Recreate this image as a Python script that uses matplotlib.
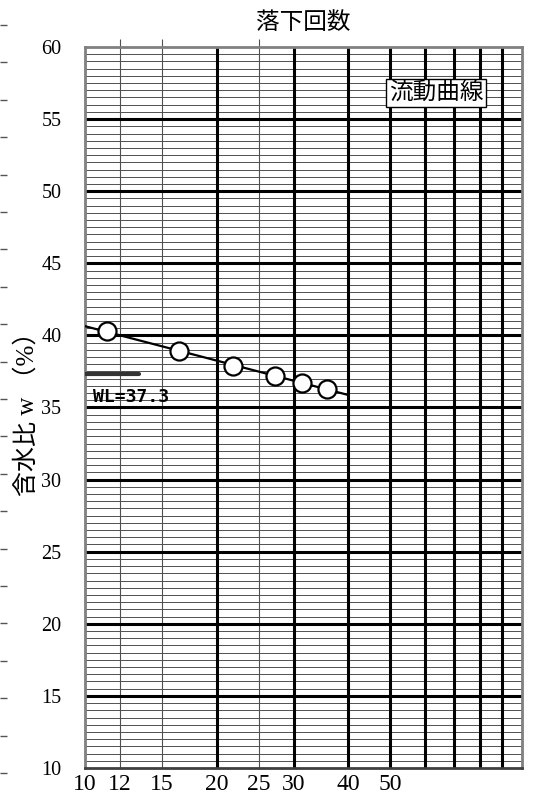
import numpy as np
import matplotlib
matplotlib.use("Agg")
import matplotlib.pyplot as plt

plt.rcParams['font.family'] = ['Liberation Serif', 'Noto Sans CJK JP', 'DejaVu Sans']

# data
drops = [11.2, 16.4, 21.8, 27.2, 31.4, 35.8]
water = [40.3, 38.9, 37.9, 37.2, 36.7, 36.3]
wl_value = 37.3

x_labels = [10, 12, 15, 20, 25, 30, 40, 50]
x_thin = [12, 15, 25]
x_thick = [20, 30, 40, 50, 60, 70, 80, 90]
y_ticks = [10, 15, 20, 25, 30, 35, 40, 45, 50, 55, 60]

fig = plt.figure(figsize=(5.39, 7.98), dpi=100)
ax = fig.add_axes([0.1577, 0.0376, 0.8108, 0.9035])
ax.set_xscale('log')
ax.set_xlim(10, 100)
ax.set_ylim(10, 60)

# grid lines
for y in np.arange(10, 60, 0.5):
    if y % 5 != 0:
        ax.axhline(y, color='#505050', lw=0.7, zorder=1)
for y in y_ticks[1:-1]:
    ax.axhline(y, color='black', lw=2.2, zorder=2)
for x in x_thin:
    ax.axvline(x, color='#505050', lw=0.8, zorder=1)
for x in x_thick:
    ax.axvline(x, color='black', lw=2.2, zorder=2)

# flow curve fitted on log scale
coef = np.polyfit(np.log10(drops), water, 1)
xs = np.array([10, 39.6])
ax.plot(xs, np.polyval(coef, np.log10(xs)), color='black', lw=1.6, zorder=3)
ax.plot(drops, water, 'o', ms=13, mfc='white', mec='black', mew=1.6, zorder=4)

# liquid limit mark
ax.plot([10, 13.3], [wl_value, wl_value], color='#333333', lw=3, solid_capstyle='round', zorder=3)
ax.text(10.45, 35.75, f'WL={wl_value}', fontsize=13, fontweight='bold',
        family=['DejaVu Sans Mono'], va='center', ha='left', zorder=5)

ax.text(0.803, 0.936, '流動曲線', transform=ax.transAxes, fontsize=17, ha='center', va='center',
        family=['Noto Sans CJK JP'], zorder=6,
        bbox=dict(boxstyle='square,pad=0.1', fc='white', ec='black', lw=1))

# ticks
ax.set_xticks(x_labels)
ax.set_xticklabels([str(v) for v in x_labels], fontsize=17)
ax.xaxis.set_minor_locator(matplotlib.ticker.NullLocator())
ax.tick_params(axis='x', length=0, pad=4)
ax.set_yticks(y_ticks)
ax.set_yticklabels([str(v) for v in y_ticks], fontsize=14.5)
ax.tick_params(axis='y', length=0, pad=17)

top = ax.secondary_xaxis('top')
top.set_xticks(x_thin)
top.set_xticklabels([])
top.xaxis.set_minor_locator(matplotlib.ticker.NullLocator())
top.tick_params(length=6, width=0.8, color='#505050')
for s in top.spines.values():
    s.set_visible(False)

for s in ax.spines.values():
    s.set_color('#808080')
    s.set_linewidth(2)
ax.spines['bottom'].set_color('#404040')

ax.set_title('落下回数', fontsize=17, family=['Noto Sans CJK JP'], pad=13)
ax.set_ylabel('含水比 w （%）', fontsize=18, family=['Liberation Serif', 'Noto Sans CJK JP'], labelpad=2)

# stray tick marks along the left edge
edge = fig.add_axes([0.0, 1 - 773 / 798, 0.02, (773 - 25) / 798])
edge.set_ylim(0, 20)
edge.set_xlim(0, 1)
edge.set_yticks(range(21))
edge.set_xticks([])
edge.tick_params(axis='y', direction='in', length=5, width=1, color='#555555', labelleft=False)
for s in edge.spines.values():
    s.set_visible(False)
edge.patch.set_alpha(0)

fig.savefig('out.png', dpi=100)
